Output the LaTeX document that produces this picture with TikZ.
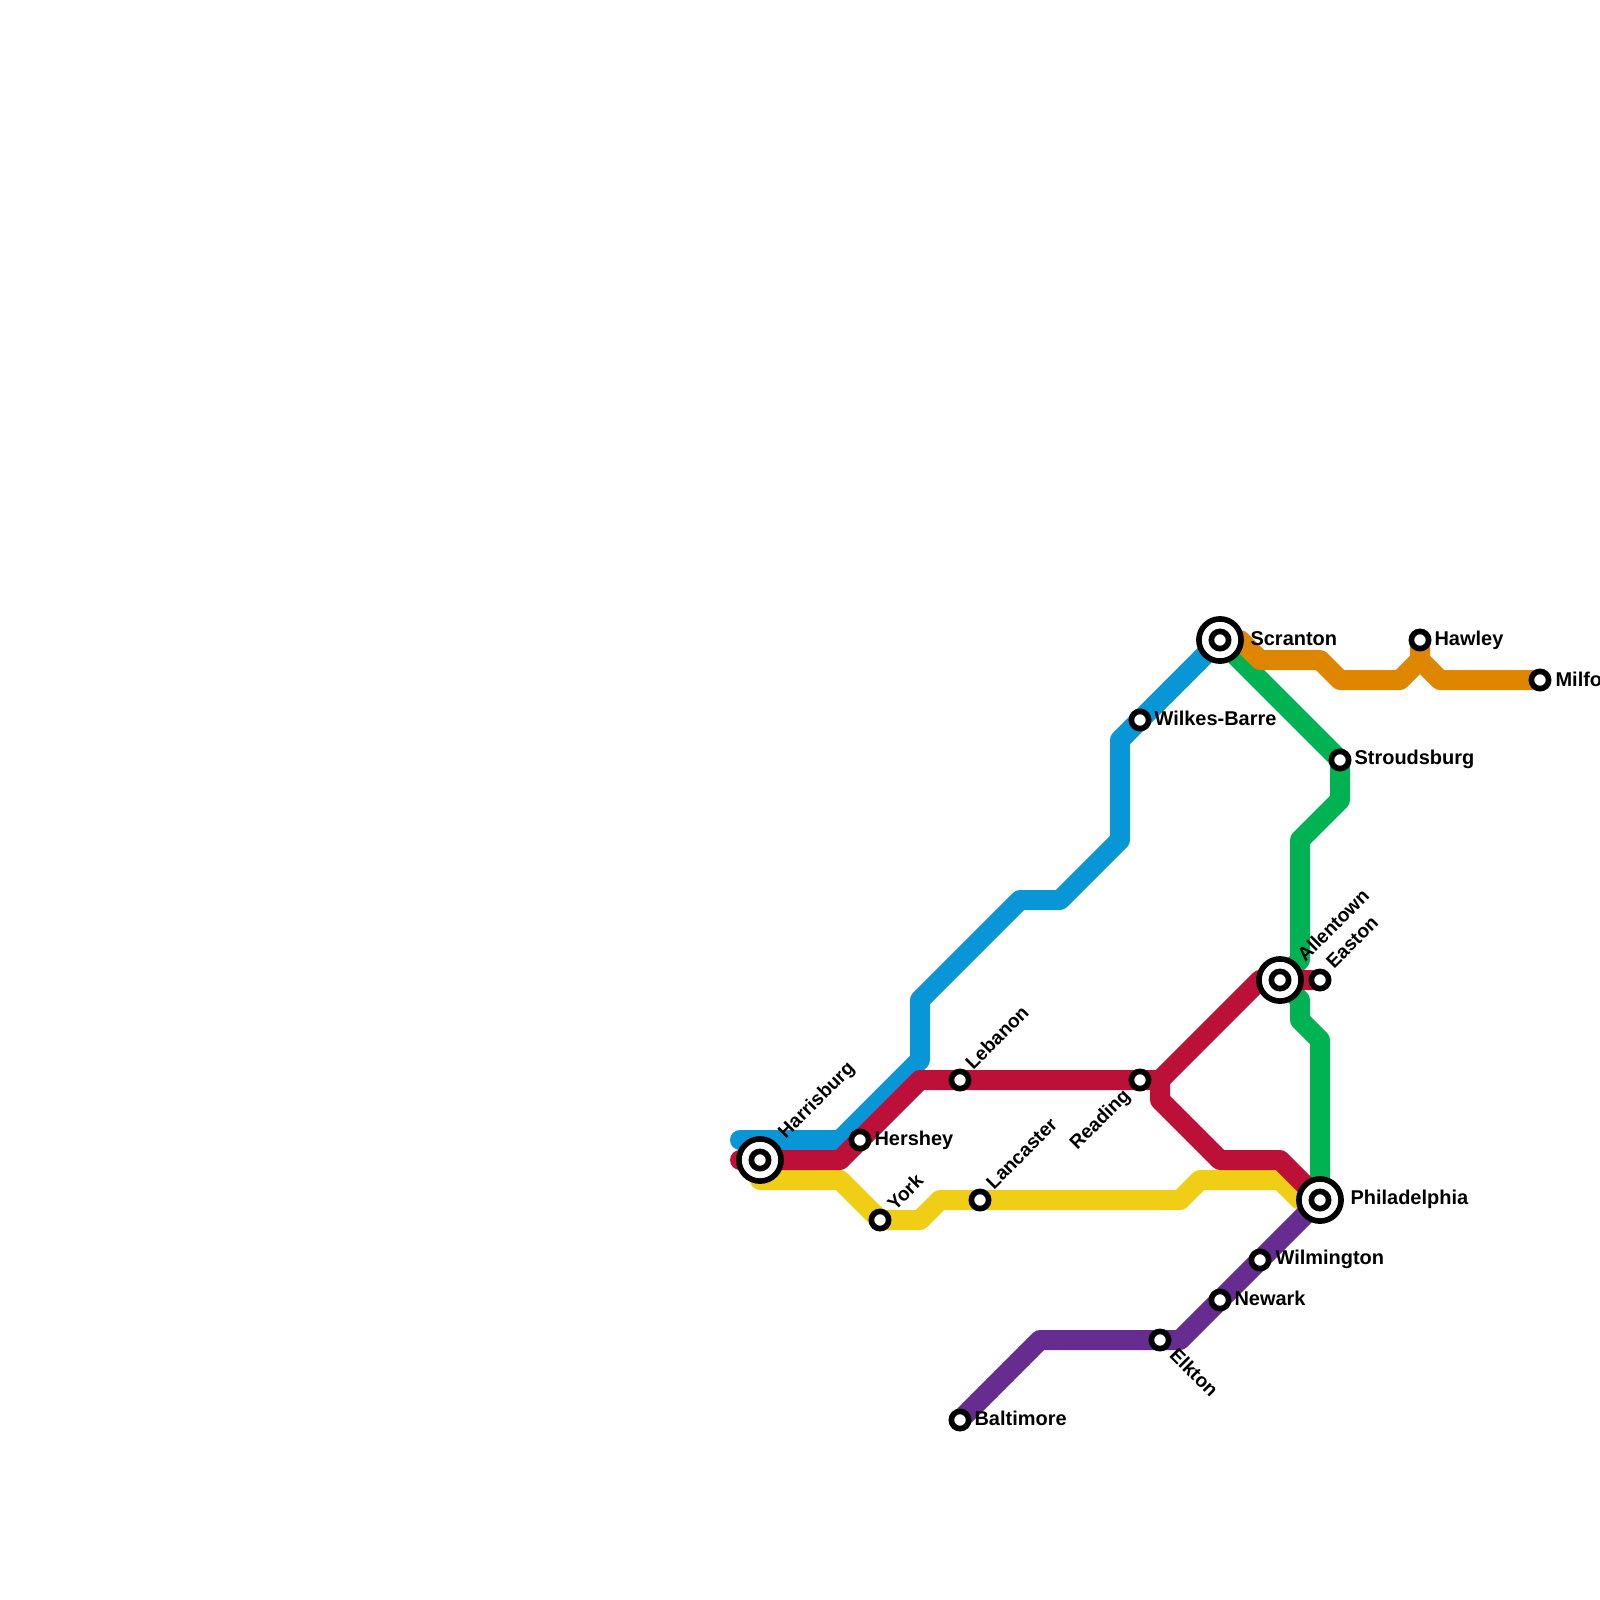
\documentclass[tikz,border=0pt]{standalone}
\usepackage{fontspec}
\setmainfont{Liberation Sans}
\usetikzlibrary{backgrounds}
\definecolor{lineblue}{HTML}{0896D7}
\definecolor{linered}{HTML}{BD1038}
\definecolor{lineyellow}{HTML}{F0CE15}
\definecolor{linegreen}{HTML}{00B251}
\definecolor{lineorange}{HTML}{DF8600}
\definecolor{linepurple}{HTML}{662C90}
\tikzset{
  stop/.style={circle, draw=black, fill=white, line width=2pt, minimum size=6.15pt, inner sep=0pt},
  hub/.style={circle, draw=black, fill=white, line width=2pt, minimum size=15pt, inner sep=0pt},
  stoptext/.style={inner sep=0pt, anchor=west, font=\bfseries\fontsize{7.1pt}{8pt}\selectfont},
  slanttext/.style={stoptext, font=\bfseries\fontsize{6.85pt}{8pt}\selectfont},
  metro/.style={line width=7.11pt, line join=round, line cap=round}
}
\begin{document}
\begin{tikzpicture}[x=0.25cm,y=-0.25cm]
          \useasboundingbox (0,0) rectangle (80,80);

          % big stations
          \node [hub] (harrisburgring) at (38,58) {};
          \node [stop] (harrisburg) at (38,58) {};
          \node [hub] (scrantonring) at (61,32) {};
          \node [stop] (scranton) at (61,32) {};
          \node [hub] (allentownring) at (64,49) {};
          \node [stop] (allentown) at (64,49) {};
          \node [hub] (philadelphiaring) at (66,60) {};
          \node [stop] (philadelphia) at (66,60) {};

          % small stations
          \node [stop] (hershey) at (43,57) {};
          \node [stop] (lebanon) at (48,54) {};
          \node [stop] (york) at (44,61) {};
          \node [stop] (lancaster) at (49,60) {};
          \node [stop] (reading) at (57,54) {};
          \node [stop] (wilkesbarre) at (57,36) {};
          \node [stop] (hawley) at (71,32) {};
          \node [stop] (milford) at (77,34) {};
          \node [stop] (stroudsburg) at (67,38) {};
          \node [stop] (easton) at (66,49) {};
          \node [stop] (wilmington) at (63,63) {};
          \node [stop] (newark) at (61,65) {};
          \node [stop] (elkton) at (58,67) {};
          \node [stop] (baltimore) at (48,71) {};

          % labels
          \node [slanttext, rotate=45] (harrisburgtext) at (39.1,56.8) {Harrisburg};
          \node [stoptext] (hersheytext) at (43.7,57) {Hershey};
          \node [slanttext, rotate=45] (lebanontext) at (48.4,53.3) {Lebanon};
          \node [slanttext, rotate=45] (yorktext) at (44.5,60.35) {York};
          \node [slanttext, rotate=45] (lancastertext) at (49.45,59.3) {Lancaster};
          \node [slanttext, rotate=45, anchor=east] (readingtext) at (56.4,54.65) {Reading};
          \node [stoptext] (wilkesbarretext) at (57.7,35.9) {Wilkes-Barre};
          \node [stoptext] (scrantontext) at (62.5,31.95) {Scranton};
          \node [stoptext] (hawleytext) at (71.7,32) {Hawley};
          \node [stoptext] (milfordtext) at (77.75,33.95) {Milford};
          \node [stoptext] (stroudsburgtext) at (67.7,37.95) {Stroudsburg};
          \node [slanttext, rotate=45] (allentowntext) at (65,47.9) {Allentown};
          \node [slanttext, rotate=45] (eastontext) at (66.45,48.25) {Easton};
          \node [stoptext] (philadelphiatext) at (67.5,59.95) {Philadelphia};
          \node [stoptext] (wilmingtontext) at (63.75,62.95) {Wilmington};
          \node [stoptext] (newarktext) at (61.7,64.9) {Newark};
          \node [slanttext, rotate=-45] (elktontext) at (58.65,67.55) {Elkton};
          \node [stoptext] (baltimoretext) at (48.7,70.9) {Baltimore};

          % bends
          \coordinate (blue0) at (37,57);
          \coordinate (blue1) at (42,57);
          \coordinate (blue2) at (46,53);
          \coordinate (blue3) at (46,50);
          \coordinate (blue4) at (51,45);
          \coordinate (blue5) at (53,45);
          \coordinate (blue6) at (56,42);
          \coordinate (blue7) at (56,37);

          \coordinate (red0) at (37,58);
          \coordinate (red1) at (42,58);
          \coordinate (red2) at (46,54);
          \coordinate (red3) at (58,54);
          \coordinate (red4) at (58,55);
          \coordinate (red5) at (61,58);
          \coordinate (red6) at (64,58);
          \coordinate (red7) at (63,49);

          \coordinate (yellow0) at (38,59);
          \coordinate (yellow1) at (42,59);
          \coordinate (yellow2) at (46,61);
          \coordinate (yellow3) at (47,60);
          \coordinate (yellow4) at (59,60);
          \coordinate (yellow5) at (60,59);
          \coordinate (yellow6) at (64,59);
          \coordinate (yellow7) at (65,60);

          \coordinate (green0) at (67,40);
          \coordinate (green1) at (65,42);
          \coordinate (green2) at (65,48);
          \coordinate (green3) at (65,50);
          \coordinate (green4) at (65,51);
          \coordinate (green5) at (66,52);

          \coordinate (orange0) at (62,32);
          \coordinate (orange1) at (63,33);
          \coordinate (orange2) at (66,33);
          \coordinate (orange3) at (67,34);
          \coordinate (orange4) at (70,34);
          \coordinate (orange5) at (71,33);
          \coordinate (orange6) at (72,34);

          \coordinate (purple0) at (52,67);
          \coordinate (purple1) at (59,67);

          \begin{scope}[on background layer]
          \draw [metro, lineblue] (blue0) -- (blue1) -- (blue2) -- (blue3) -- (blue4) -- (blue5) -- (blue6) -- (blue7) -- (wilkesbarre.center) -- (scranton.center);
          \draw [metro, linegreen] (scranton.center) -- (stroudsburg.center) -- (green0) -- (green1) -- (green2) -- (allentown.center) -- (green3) -- (green4) -- (green5) -- (philadelphia.center);
          \draw [metro, lineorange] (scranton.center) -- (orange0) -- (orange1) -- (orange2) -- (orange3) -- (orange4) -- (orange5) -- (hawley.center);
          \draw [metro, lineorange] (orange5) -- (orange6) -- (milford.center);
          \draw [metro, lineyellow] (yellow0) -- (yellow1) -- (york.center) -- (yellow2) -- (yellow3) -- (yellow4) -- (yellow5) -- (yellow6) -- (yellow7) -- (philadelphia.center);
          \draw [metro, linered] (red0) -- (red1) -- (red2) -- (red3) -- (red4) -- (red5) -- (red6) -- (philadelphia.center);
          \draw [metro, linered] (red3) -- (red7) -- (allentown.center) -- (easton.center);
          \draw [metro, linepurple] (baltimore.center) -- (purple0) -- (purple1) -- (philadelphia.center);
          \end{scope}
        \end{tikzpicture}
\end{document}
